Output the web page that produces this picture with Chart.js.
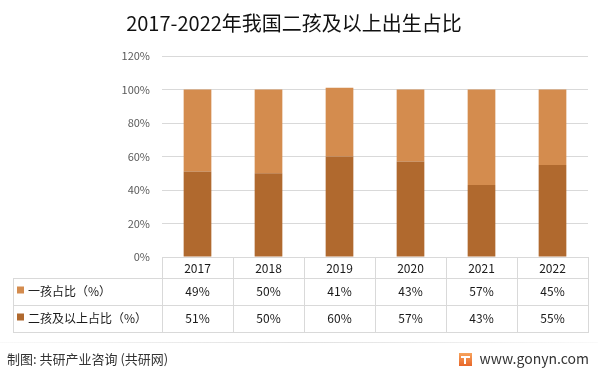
<!DOCTYPE html>
<html lang="zh">
<head>
<meta charset="utf-8">
<title>2017-2022年我国二孩及以上出生占比</title>
<script src="https://cdn.jsdelivr.net/npm/chart.js@4.4.1/dist/chart.umd.min.js"></script>
<style>
  html, body { margin: 0; padding: 0; background: #fff; }
  #wrap { position: relative; width: 598px; height: 372px; }
</style>
</head>
<body>
<div id="wrap"><canvas id="chart" width="598" height="372"></canvas></div>
<script>
const FONT = '"Noto Sans CJK SC", "Noto Sans", sans-serif';

const years = ['2017', '2018', '2019', '2020', '2021', '2022'];
const firstChildShare = [49, 50, 41, 43, 57, 45];
const secondPlusShare = [51, 50, 60, 57, 43, 55];
const seriesNames = ['一孩占比（%）', '二孩及以上占比（%）'];
const seriesColors = ['#D48C4E', '#B0692E'];
const yTicks = [0, 20, 40, 60, 80, 100, 120];

const titleText = '2017-2022年我国二孩及以上出生占比';
const sourceText = '制图: 共研产业咨询 (共研网)';
const siteText = 'www.gonyn.com';

// table under the plot, columns follow the x scale
const dataTable = {
  id: 'dataTable',
  afterDraw(chart) {
    const { ctx, chartArea, scales: { x } } = chart;
    const colW = (chartArea.right - chartArea.left) / years.length;
    const top = chartArea.bottom;
    const headBottom = top + 21;
    const rowH = 27;
    const bottom = headBottom + rowH * 2;
    const left = 13;
    const rows = [firstChildShare, secondPlusShare];

    ctx.save();
    ctx.strokeStyle = '#d9d9d9';
    ctx.lineWidth = 1;
    ctx.beginPath();
    for (let i = 0; i <= years.length; i++) {
      const px = Math.round(chartArea.left + colW * i) + 0.5;
      ctx.moveTo(px, top);
      ctx.lineTo(px, bottom);
    }
    ctx.moveTo(left + 0.5, headBottom);
    ctx.lineTo(left + 0.5, bottom);
    for (let r = 0; r <= 2; r++) {
      const py = headBottom + rowH * r + 0.5;
      ctx.moveTo(left, py);
      ctx.lineTo(chartArea.right + 1, py);
    }
    ctx.stroke();

    ctx.fillStyle = '#1a1a1a';
    ctx.font = `12px ${FONT}`;
    ctx.textAlign = 'center';
    ctx.textBaseline = 'middle';
    years.forEach((y, i) => {
      ctx.fillText(y, x.getPixelForValue(i), (top + headBottom) / 2 + 1);
    });
    rows.forEach((vals, r) => {
      const cy = headBottom + rowH * r + rowH / 2;
      vals.forEach((v, i) => {
        ctx.fillText(v + '%', x.getPixelForValue(i), cy);
      });
      ctx.fillStyle = seriesColors[r];
      ctx.fillRect(17, cy - 5, 7, 7);
      ctx.fillStyle = '#1a1a1a';
      ctx.textAlign = 'left';
      ctx.fillText(seriesNames[r], 28, cy);
      ctx.textAlign = 'center';
    });
    ctx.restore();
  }
};

const footer = {
  id: 'footer',
  afterDraw(chart) {
    const { ctx, width } = chart;
    ctx.save();
    const g = ctx.createLinearGradient(0, 0, width, 0);
    g.addColorStop(0, 'rgba(225,225,225,0.2)');
    g.addColorStop(0.5, 'rgba(225,225,225,1)');
    g.addColorStop(1, 'rgba(225,225,225,0.2)');
    ctx.strokeStyle = g;
    ctx.beginPath();
    ctx.moveTo(0, 342.5);
    ctx.lineTo(width, 342.5);
    ctx.stroke();

    ctx.fillStyle = '#333';
    ctx.font = `13px ${FONT}`;
    ctx.textBaseline = 'middle';
    ctx.textAlign = 'left';
    ctx.fillText(sourceText, 7, 359);
    ctx.font = `14px ${FONT}`;
    ctx.textAlign = 'right';
    ctx.fillText(siteText, 589, 359);

    // small logo
    const lg = ctx.createLinearGradient(0, 353, 0, 366);
    lg.addColorStop(0, '#f7a35c');
    lg.addColorStop(1, '#e8672a');
    ctx.fillStyle = lg;
    ctx.fillRect(459, 353, 13, 13);
    ctx.fillStyle = '#fff';
    ctx.fillRect(461, 356, 9, 2);
    ctx.fillRect(464, 358, 2, 6);
    ctx.restore();
  }
};

new Chart(document.getElementById('chart'), {
  type: 'bar',
  data: {
    labels: years,
    datasets: [
      { label: seriesNames[1], data: secondPlusShare, backgroundColor: seriesColors[1] },
      { label: seriesNames[0], data: firstChildShare, backgroundColor: seriesColors[0] }
    ]
  },
  options: {
    responsive: false,
    animation: false,
    devicePixelRatio: 1,
    layout: { padding: { left: 0, right: 10, top: 0, bottom: 115 } },
    datasets: { bar: { categoryPercentage: 1, barPercentage: 0.39 } },
    plugins: {
      legend: { display: false },
      tooltip: { enabled: false },
      title: {
        display: true,
        text: titleText,
        color: '#111',
        font: { size: 20, family: FONT, weight: 'normal' },
        padding: { top: 11, bottom: 21 }
      }
    },
    scales: {
      x: { stacked: true, display: false },
      y: {
        stacked: true,
        min: 0,
        max: 120,
        afterBuildTicks(s) { s.ticks = yTicks.map(v => ({ value: v })); },
        afterFit(s) { s.width = 162; },
        border: { display: false },
        grid: { color: '#d9d9d9', drawTicks: false },
        ticks: {
          padding: 12,
          color: '#595959',
          font: { size: 11, family: FONT },
          callback: v => v + '%'
        }
      }
    }
  },
  plugins: [dataTable, footer]
});
</script>
</body>
</html>
